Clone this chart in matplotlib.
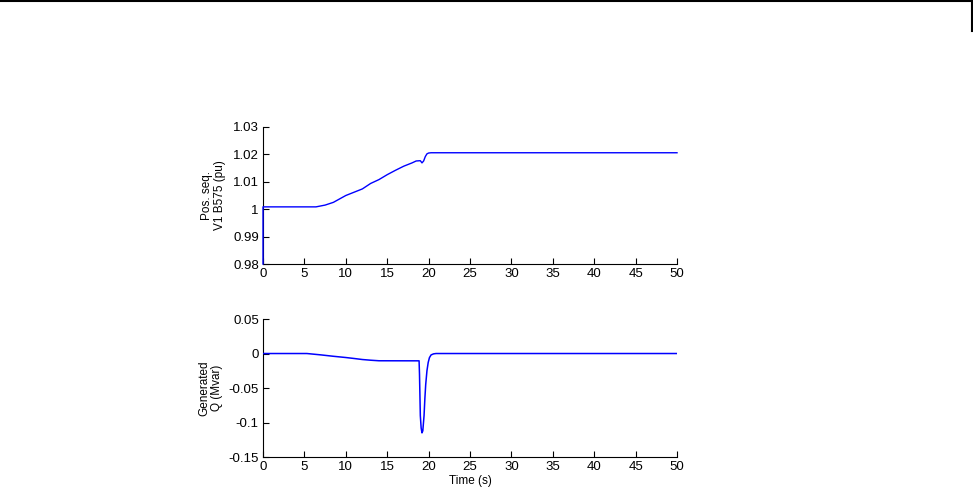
import matplotlib.pyplot as plt
from matplotlib.lines import Line2D

# voltage V1 at B575 (pu)
t_v = [0, 0.001, 6.4, 7.5, 8.5, 10, 11, 12, 13, 14, 15, 16, 17, 18, 18.5, 19.0, 19.2, 19.4, 19.6, 19.8, 20.0, 20.3, 50]
v1 = [0.98, 1.00085, 1.00085, 1.0015, 1.0025, 1.005, 1.0062, 1.0074, 1.0094, 1.0108, 1.0126, 1.0142, 1.0157, 1.0169, 1.0176, 1.0177, 1.0169, 1.0176, 1.0192, 1.0202, 1.0205, 1.0206, 1.0206]

# generated reactive power (Mvar)
t_q = [0, 5.3, 7, 8.5, 10, 11, 12, 13, 14, 18.85, 18.9, 19.0, 19.1, 19.2, 19.3, 19.45, 19.55, 19.65, 19.8, 19.95, 20.1, 20.3, 20.6, 20.9, 50]
q = [0, 0, -0.002, -0.004, -0.0058, -0.0072, -0.0087, -0.0097, -0.0105, -0.0106, -0.03, -0.09, -0.108, -0.115, -0.112, -0.09, -0.065, -0.045, -0.025, -0.013, -0.006, -0.002, -0.0005, 0, 0]

plt.rcParams['font.family'] = ['Liberation Sans', 'DejaVu Sans']
plt.rcParams['font.size'] = 8.5

fig = plt.figure(figsize=(9.73, 4.93), dpi=100)
ax1 = fig.add_axes([0.2703, 0.4645, 0.4255, 0.2779])
ax2 = fig.add_axes([0.2703, 0.0730, 0.4255, 0.2799])

ax1.plot(t_v, v1, color='#0000ff', lw=1, zorder=3, clip_on=False)
ax1.set_ylim(0.98, 1.03)
ax1.set_yticks([0.98, 0.99, 1.0, 1.01, 1.02, 1.03])
ax1.set_yticklabels(['0.98', '0.99', '1', '1.01', '1.02', '1.03'])
ax1.set_ylabel('Pos. seq.\nV1 B575 (pu)', labelpad=5, linespacing=1.05)

ax2.plot(t_q, q, color='#0000ff', lw=1.1, zorder=3)
ax2.set_ylim(-0.15, 0.05)
ax2.set_yticks([-0.15, -0.1, -0.05, 0, 0.05])
ax2.set_yticklabels(['-0.15', '-0.1', '-0.05', '0', '0.05'])
ax2.set_ylabel('Generated\nQ (Mvar)', labelpad=4, linespacing=1.05)
ax2.set_xlabel('Time (s)', labelpad=1)

for ax in (ax1, ax2):
    ax.set_xlim(0, 50)
    ax.set_xticks(range(0, 51, 5))
    ax.spines['top'].set_visible(False)
    ax.spines['right'].set_visible(False)
    ax.tick_params(direction='in', length=4, width=0.8, pad=3, labelsize=9.5)

# page frame at the top
fig.add_artist(Line2D([0, 972], [492.5, 492.5], color='black', lw=1.5, transform=None))
fig.add_artist(Line2D([971.5, 971.5], [493, 462], color='black', lw=1.5, transform=None))

fig.savefig('out.png', dpi=100)
